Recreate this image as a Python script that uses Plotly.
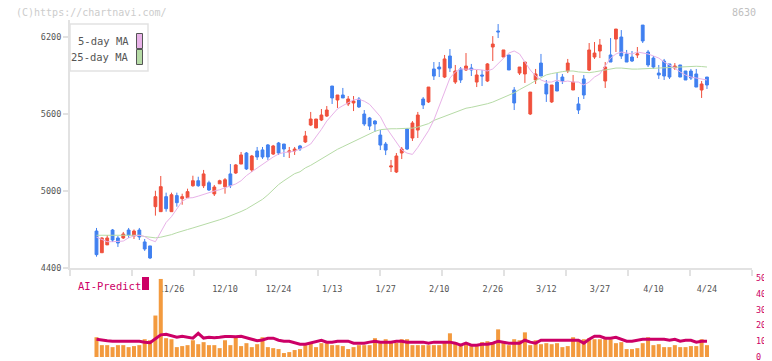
import plotly.graph_objects as go

W, H = 772, 361

# ---- data ----
opens = [4688, 4519, 4580, 4696, 4634, 4634, 4696, 4649, 4696, 4603,
         4572, 4878, 4839, 4956, 4839, 4964, 4940, 4948, 5041, 5080,
         5041, 5064, 4977, 5056, 5033, 5133, 5140, 5210, 5296, 5164,
         5312, 5320, 5359, 5288, 5374, 5366, 5304, 5312, 5351, 5382,
         5514, 5491, 5553, 5584, 5818, 5709, 5748, 5678, 5686, 5717,
         5600, 5569, 5545, 5436, 5366, 5187, 5148, 5296, 5483, 5413,
         5475, 5717, 5694, 5951, 5966, 5888, 6052, 5849, 5951, 5943,
         5958, 5849, 5904, 5857, 6122, 6247, 6044, 6060, 5787, 5919,
         5912, 5600, 5865, 5997, 5834, 5694, 5849, 5888, 5935, 5787,
         5678, 5873, 5943, 6044, 6091, 5857, 6060, 6184, 6200, 6068,
         6044, 6060, 6293, 6083, 6036, 5919, 6013, 5990, 5958, 5982,
         5935, 5935, 5912, 5787, 5888]
highs = [4712, 4640, 4657, 4704, 4649, 4681, 4712, 4700, 4712, 4626,
         4572, 5002, 5117, 4987, 4987, 4987, 4979, 5018, 5119, 5111,
         5164, 5080, 5047, 5088, 5101, 5210, 5210, 5304, 5304, 5281,
         5343, 5343, 5366, 5359, 5382, 5366, 5343, 5343, 5359, 5468,
         5616, 5561, 5639, 5662, 5818, 5748, 5803, 5740, 5740, 5732,
         5631, 5577, 5553, 5475, 5382, 5242, 5296, 5343, 5491, 5545,
         5616, 5732, 5810, 6005, 6005, 6060, 6106, 5982, 5966, 6075,
         5990, 5943, 5943, 5997, 6207, 6301, 6099, 6060, 5810, 5966,
         6005, 5771, 5951, 6068, 5865, 5826, 5919, 5912, 6029, 5904,
         5732, 5904, 6153, 6161, 6184, 6005, 6192, 6262, 6254, 6099,
         6091, 6122, 6293, 6099, 6052, 5982, 6029, 5990, 5997, 5982,
         5935, 5951, 5951, 5857, 5888]
lows = [4488, 4519, 4580, 4603, 4564, 4626, 4634, 4626, 4618, 4533,
        4470, 4808, 4839, 4839, 4839, 4878, 4893, 4948, 5033, 5033,
        5023, 5000, 4961, 5056, 4979, 5023, 5133, 5210, 5164, 5148,
        5242, 5250, 5242, 5281, 5281, 5265, 5257, 5281, 5312, 5374,
        5506, 5491, 5545, 5577, 5678, 5647, 5725, 5662, 5623, 5647,
        5506, 5475, 5460, 5319, 5280, 5148, 5140, 5249, 5319, 5390,
        5413, 5639, 5686, 5865, 5888, 5880, 5927, 5834, 5842, 5935,
        5896, 5810, 5818, 5849, 6013, 6192, 6044, 5943, 5631, 5904,
        5842, 5592, 5834, 5896, 5694, 5686, 5779, 5834, 5919, 5787,
        5600, 5717, 5935, 6029, 6036, 5803, 6005, 6083, 6029, 6005,
        6005, 6036, 6153, 5966, 5951, 5873, 5865, 5873, 5943, 5888,
        5865, 5865, 5810, 5725, 5795]
closes = [4504, 4634, 4634, 4618, 4595, 4665, 4657, 4688, 4642, 4548,
          4478, 4956, 5034, 4862, 4971, 4909, 4956, 4995, 5080, 5041,
          5133, 5008, 5031, 5080, 5088, 5041, 5203, 5281, 5172, 5273,
          5265, 5265, 5265, 5351, 5296, 5327, 5312, 5327, 5327, 5429,
          5561, 5561, 5592, 5631, 5725, 5748, 5725, 5717, 5701, 5655,
          5522, 5506, 5522, 5358, 5319, 5195, 5273, 5327, 5327, 5530,
          5592, 5670, 5810, 5896, 5951, 6029, 5958, 5935, 5865, 5974,
          5943, 5904, 5896, 5990, 6145, 6240, 6099, 5943, 5686, 5966,
          6005, 5771, 5912, 5896, 5756, 5826, 5779, 5857, 5997, 5849,
          5631, 5748, 6099, 6075, 6138, 5966, 6005, 6262, 6052, 6005,
          6013, 6068, 6169, 5982, 5966, 5904, 5896, 5888, 5974, 5888,
          5865, 5880, 5810, 5834, 5826]
ma5 = [4640, 4620, 4605, 4605, 4605, 4610, 4635, 4650, 4655, 4645,
       4620, 4605, 4680, 4755, 4800, 4860, 4920, 4945, 4948, 4960,
       4975, 4985, 5000, 5010, 5025, 5040, 5055, 5080, 5120, 5150,
       5180, 5205, 5235, 5265, 5288, 5300, 5304, 5310, 5327, 5343,
       5366, 5420, 5480, 5545, 5590, 5640, 5665, 5690, 5710, 5715,
       5700, 5675, 5630, 5580, 5500, 5440, 5380, 5320, 5295, 5285,
       5340, 5400, 5470, 5553, 5655, 5771, 5880, 5927, 5951, 5951,
       5951, 5947, 5943, 5935, 5951, 5990, 6036, 6075, 6091, 6068,
       6005, 5943, 5896, 5865, 5849, 5849, 5865, 5850, 5857, 5849,
       5849, 5826, 5849, 5888, 5912, 5974, 6036, 6068, 6083, 6075,
       6068, 6083, 6075, 6068, 6052, 6036, 6005, 5982, 5958, 5927,
       5904, 5888, 5880, 5873, 5865]
ma25 = [4655, 4655, 4655, 4655, 4655, 4655, 4655, 4655, 4655, 4645,
        4640, 4635, 4640, 4648, 4660, 4675, 4690, 4700, 4712, 4724,
        4735, 4750, 4763, 4776, 4790, 4805, 4822, 4840, 4860, 4885,
        4910, 4935, 4970, 5010, 5050, 5080, 5110, 5135, 5150, 5180,
        5200, 5225, 5250, 5280, 5300, 5325, 5345, 5365, 5385, 5405,
        5425, 5445, 5465, 5478, 5483, 5485, 5485, 5485, 5486, 5490,
        5498, 5510, 5525, 5550, 5565, 5580, 5595, 5615, 5630, 5645,
        5652, 5660, 5668, 5680, 5693, 5710, 5725, 5745, 5765, 5790,
        5810, 5835, 5860, 5885, 5905, 5915, 5925, 5930, 5935, 5935,
        5928, 5925, 5922, 5928, 5935, 5945, 5952, 5958, 5958, 5952,
        5950, 5950, 5952, 5958, 5958, 5958, 5958, 5960, 5962, 5966,
        5966, 5968, 5972, 5970, 5966]
volume = [12.5, 7.5, 7.5, 6.25, 7.5, 7.5, 6.25, 6.9, 7.5, 11.25,
          10.6, 26.25, 49.4, 11.9, 11.25, 6.25, 6.9, 7.5, 10.6, 8.1,
          9.4, 7.5, 7.5, 5.6, 10.6, 7.5, 12.5, 6.9, 8.75, 6.25,
          8.1, 12.5, 6.25, 5.6, 5.0, 2.5, 3.1, 4.4, 5.0, 7.5,
          8.75, 6.25, 8.75, 8.75, 7.5, 7.5, 6.9, 5.0, 6.25, 7.5,
          7.5, 7.5, 11.9, 8.75, 11.25, 9.4, 9.0, 11.25, 11.25, 7.5,
          7.5, 7.5, 7.5, 7.5, 7.5, 9.4, 15.0, 9.4, 7.5, 8.75,
          6.9, 6.9, 9.4, 10.0, 9.4, 17.5, 10.0, 7.5, 11.25, 10.6,
          15.6, 7.5, 10.6, 8.1, 8.75, 8.1, 8.75, 6.25, 6.9, 12.5,
          10.0, 11.25, 11.9, 11.25, 11.25, 11.25, 11.25, 8.75, 9.4, 5.0,
          5.0, 5.6, 8.75, 12.5, 7.5, 8.1, 6.25, 6.25, 7.5, 6.25,
          6.25, 6.9, 6.9, 11.25, 7.5]
ai_predict = [11.25, 10.6, 10.3, 10.0, 10.0, 10.0, 10.0, 10.0, 10.0, 9.4,
              9.0, 11.5, 14.0, 14.4, 13.5, 12.5, 13.1, 12.5, 11.9, 15.0,
              12.0, 12.5, 12.2, 12.5, 13.0, 13.0, 12.8, 13.1, 12.0, 11.25,
              10.3, 10.8, 11.9, 11.9, 10.6, 10.0, 10.0, 8.9, 8.1, 8.1,
              8.9, 9.4, 10.6, 9.4, 9.4, 10.0, 10.0, 10.0, 8.75, 8.75,
              8.75, 9.4, 10.0, 9.4, 9.4, 9.4, 10.0, 10.0, 9.4, 9.4,
              9.4, 9.4, 8.75, 9.4, 9.4, 9.4, 9.4, 8.75, 7.5, 8.75,
              7.5, 7.5, 8.1, 8.1, 8.75, 10.0, 9.4, 8.75, 8.75, 8.75,
              10.6, 9.4, 8.75, 10.6, 10.6, 10.6, 10.6, 10.6, 10.6, 10.6,
              10.6, 8.75, 11.25, 13.1, 13.1, 11.9, 11.9, 12.5, 11.25, 10.0,
              10.0, 10.6, 11.25, 11.25, 11.25, 11.25, 11.25, 10.6, 11.25, 10.0,
              10.6, 10.6, 9.4, 10.0, 10.0]
label_pos = [14, 24, 34, 44, 54, 64, 74, 84, 94, 104, 114]
label_text = ["11/26", "12/10", "12/24", "1/13", "1/27", "2/10",
              "2/26", "3/12", "3/27", "4/10", "4/24"]
price_ticks = [4400, 5000, 5600, 6200]
vol_ticks = [0, 10, 20, 30, 40, 50]

# ---- styles ----
RED = "#f0503c"
BLUE = "#4080f0"
PINK = "#e8b2e8"
GREEN = "#b6dba6"
ORANGE = "#f39a3e"
MAGENTA = "#cc0066"
MONO = "DejaVu Sans Mono"

x = list(range(len(opens)))

# the page body adds an 8px margin around the figure; compensate
OFF = 8


def px(v):
    return (v - OFF) / W


def py(v):
    return 1 - (v - OFF) / H


# axis geometry (pixels in the final screenshot)
X_LEFT, X_RIGHT = 70, 752
STEP = 5.355
FIRST = 96.5
xr = [(X_LEFT - FIRST) / STEP, (X_RIGHT - FIRST) / STEP]

fig = go.Figure()
fig.add_trace(go.Scatter(x=x, y=ma25, mode="lines", line=dict(color=GREEN, width=1),
                         hoverinfo="skip", xaxis="x", yaxis="y"))
fig.add_trace(go.Scatter(x=x, y=ma5, mode="lines", line=dict(color=PINK, width=1),
                         hoverinfo="skip", xaxis="x", yaxis="y"))
fig.add_trace(go.Candlestick(
    x=x, open=opens, high=highs, low=lows, close=closes,
    increasing=dict(line=dict(color=RED, width=1), fillcolor=RED),
    decreasing=dict(line=dict(color=BLUE, width=1), fillcolor=BLUE),
    whiskerwidth=0, xaxis="x", yaxis="y"))
fig.add_trace(go.Bar(x=x, y=volume, marker=dict(color=ORANGE, line=dict(width=0)),
                     width=0.75, xaxis="x2", yaxis="y2"))
fig.add_trace(go.Scatter(x=x, y=ai_predict, mode="lines",
                         line=dict(color=MAGENTA, width=3), xaxis="x2", yaxis="y2"))

fig.update_layout(
    width=W, height=H, margin=dict(l=0, r=0, t=0, b=0, autoexpand=False),
    paper_bgcolor="white", plot_bgcolor="white",
    showlegend=False, boxgap=0.25, hovermode=False,
    font=dict(family=MONO, color="#555555"),
    xaxis=dict(
        domain=[px(X_LEFT), px(X_RIGHT)], range=xr, anchor="y", automargin=False,
        showgrid=False, zeroline=False, showline=True,
        linecolor="#e2e2e2", linewidth=2,
        tickmode="array", tickvals=label_pos, ticktext=label_text,
        ticks="", ticklabelstandoff=12,
        tickfont=dict(family=MONO, size=8.5, color="#555555"),
        minor=dict(tick0=xr[0], dtick=62 / STEP, ticks="outside",
                   ticklen=6, tickwidth=2, tickcolor="#e2e2e2", showgrid=False),
        rangeslider=dict(visible=False), fixedrange=True,
    ),
    yaxis=dict(
        domain=[py(268), py(20)], range=[4400, 4400 + 248 * 1800 / 231],
        anchor="x", automargin=False, showgrid=False, zeroline=False, showline=True,
        linecolor="#e2e2e2", linewidth=2,
        tickmode="array", tickvals=price_ticks,
        ticks="outside", ticklen=5, tickwidth=2, tickcolor="#e2e2e2",
        tickfont=dict(family=MONO, size=8.5, color="#555555"),
        fixedrange=True,
    ),
    xaxis2=dict(
        domain=[px(X_LEFT), px(X_RIGHT)], range=xr, anchor="y2", automargin=False,
        visible=False, fixedrange=True,
    ),
    yaxis2=dict(
        domain=[py(357), py(278)], range=[0, 50], anchor="x2", side="right",
        automargin=False, showgrid=False, zeroline=False, showline=False,
        tickmode="array", tickvals=vol_ticks, ticks="",
        ticklabelstandoff=3,
        tickfont=dict(family=MONO, size=8.5, color=MAGENTA),
        fixedrange=True,
    ),
)

# watermark / code
fig.add_annotation(x=px(14), y=py(12), xref="paper", yref="paper", xanchor="left",
                   yanchor="middle", text="(C)https://chartnavi.com/", showarrow=False,
                   font=dict(family=MONO, size=10, color="#cccccc"))
fig.add_annotation(x=px(758), y=py(12), xref="paper", yref="paper", xanchor="right",
                   yanchor="middle", text="8630", showarrow=False,
                   font=dict(family=MONO, size=10, color="#c0c0c0"))

# legend box for moving averages
fig.add_shape(type="rect", xref="paper", yref="paper",
              x0=px(70), x1=px(148), y0=py(71), y1=py(24),
              line=dict(color="#e2e2e2", width=1.5), fillcolor="white", layer="above")
legend_items = [("5-day MA", PINK, 41), ("25-day MA", GREEN, 57)]
for name, col, yc in legend_items:
    fig.add_annotation(x=px(131), y=py(yc), xref="paper", yref="paper",
                       xanchor="right", yanchor="middle", text=name, showarrow=False,
                       font=dict(family=MONO, size=10.5, color="#555555"))
    fig.add_shape(type="rect", xref="paper", yref="paper",
                  x0=px(136.5), x1=px(142.5), y0=py(yc + 7.5), y1=py(yc - 7.5),
                  line=dict(color="#555555", width=1), fillcolor=col, layer="above")

# AI-Predict label
fig.add_annotation(x=px(76), y=py(286), xref="paper", yref="paper", xanchor="left",
                   yanchor="middle", text="AI-Predict", showarrow=False,
                   font=dict(family=MONO, size=10.5, color=MAGENTA))
fig.add_shape(type="rect", xref="paper", yref="paper",
              x0=px(142), x1=px(149), y0=py(290), y1=py(277),
              line=dict(width=0), fillcolor=MAGENTA)

fig.write_html("out.html")
